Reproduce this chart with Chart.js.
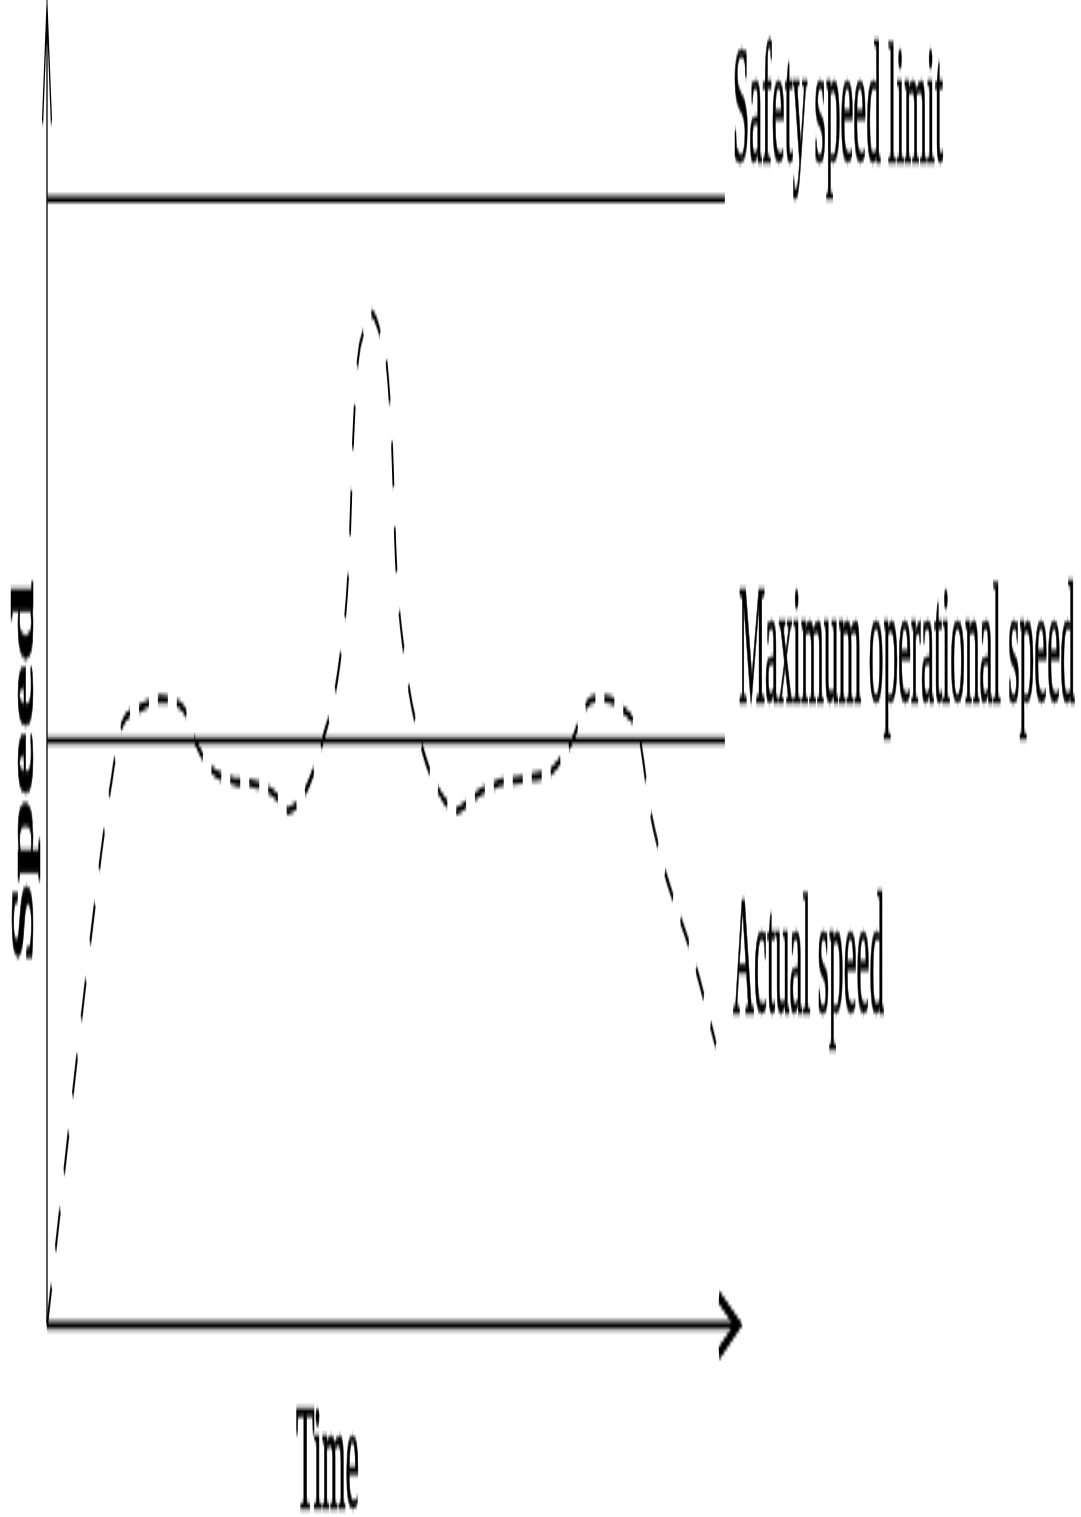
<!DOCTYPE html>
<html>
<head>
<meta charset="utf-8">
<script src="https://cdn.jsdelivr.net/npm/chart.js@4.4.1/dist/chart.umd.min.js"></script>
<style>
  html { overflow: hidden; }
  body { margin: 0; padding: 0; background: #fff; width: 1081px; height: 1517px; }
  /* the whole figure is stretched vertically, so draw it flat and stretch it */
  #wrap { width: 1081px; height: 337px; transform-origin: 0 0; }
</style>
</head>
<body>
<div id="wrap"><canvas id="speedChart" width="1081" height="337"></canvas></div>
<script>
// time (0..100) and speed (safety limit = 100)
const timeValues  = [0, 7.53, 9.12, 10.85, 13.0, 16.35, 19.7, 21.4, 23.6, 27.2, 30.5, 33.0, 34.9, 37.3, 39.9,
                     42.4, 43.7, 44.3, 45.0, 46.0, 47.0, 48.0, 49.1, 49.9, 50.5, 51.8, 54.0,
                     56.9, 59.3, 61.8, 64.8, 69.9, 73.1, 76.0, 77.9, 80.0, 83.2, 85.8, 87.3, 94.1, 96.8];
const speedValues = [0, 40.4, 47.5, 53.3, 54.6, 55.6, 54.8, 51.9, 49.5, 48.3, 48.0, 47.1, 45.7, 47.3, 51.9,
                     59.1, 67.9, 78.6, 85.7, 88.5, 89.8, 88.5, 85.7, 78.6, 67.9, 59.1, 51.9,
                     47.2, 45.7, 46.9, 48.0, 48.6, 49.3, 51.9, 54.9, 55.7, 54.8, 51.9, 45.7, 31.3, 24.9];
const limitTimes = [0, 98.1];
const safetyLimit = 100;
const maxOperational = 51.9;
const labels = ['Safety speed limit', 'Maximum operational speed', 'Actual speed'];
const xTitle = 'Time';
const yTitle = 'Speed';

const H = 337;
const F = 1517 / H;
document.getElementById('wrap').style.transform = 'scale(1,' + F + ')';

function fitText(ctx, text, x, y, size, width, bold) {
    ctx.font = (bold ? 'bold ' : '') + size + 'px "Liberation Serif", "Times New Roman", serif';
    const w = ctx.measureText(text).width;
    ctx.save();
    ctx.translate(x, y);
    ctx.scale(width / w, 1);
    ctx.fillText(text, 0, 0);
    ctx.lineWidth = 0.5;
    ctx.strokeText(text, 0, 0);
    ctx.restore();
}

const decor = {
    id: 'decor',
    afterDraw(chart) {
        const ctx = chart.ctx;
        const xs = chart.scales.x, ys = chart.scales.y;
        const x0 = xs.getPixelForValue(0), y0 = ys.getPixelForValue(0);
        const xEnd = xs.getPixelForValue(xs.max), yTop = ys.getPixelForValue(ys.max);
        ctx.save();
        ctx.strokeStyle = '#000';
        ctx.fillStyle = '#000';
        ctx.lineCap = 'butt';
        // y axis with thin arrow
        ctx.lineWidth = 1.3;
        ctx.beginPath();
        ctx.moveTo(x0, y0);
        ctx.lineTo(x0, yTop);
        ctx.moveTo(x0 - 4.5, yTop + 116 / F);
        ctx.lineTo(x0, yTop);
        ctx.lineTo(x0 + 4.5, yTop + 116 / F);
        ctx.stroke();
        // x axis with arrow
        ctx.lineWidth = 1.6;
        ctx.beginPath();
        ctx.moveTo(x0, y0);
        ctx.lineTo(xEnd - 1, y0);
        ctx.stroke();
        ctx.lineWidth = 3;
        ctx.beginPath();
        ctx.moveTo(xEnd - 19, y0 - 28 / F);
        ctx.lineTo(xEnd, y0);
        ctx.lineTo(xEnd - 19, y0 + 28 / F);
        ctx.stroke();

        // labels
        ctx.textAlign = 'left';
        ctx.textBaseline = 'alphabetic';
        fitText(ctx, labels[0], 733, 162 / F, 37, 210);
        fitText(ctx, labels[1], 739, 703 / F, 37, 336);
        fitText(ctx, labels[2], 733, 1013 / F, 37, 151);
        fitText(ctx, xTitle, 296, 1507 / F, 33.5, 63);

        ctx.save();
        ctx.translate(33, 772.5 / F);
        ctx.rotate(-Math.PI / 2);
        ctx.textAlign = 'center';
        fitText(ctx, yTitle, 0, 0, 31, 385 / F, true);
        ctx.restore();
        ctx.restore();
    }
};

const actual = timeValues.map((t, i) => ({ x: t, y: speedValues[i] }));
const safety = limitTimes.map(t => ({ x: t, y: safetyLimit }));
const maxOp = limitTimes.map(t => ({ x: t, y: maxOperational }));

new Chart(document.getElementById('speedChart'), {
    type: 'line',
    data: {
        datasets: [
            { data: safety, borderColor: '#000', borderWidth: 1.6, pointRadius: 0, clip: false },
            { data: maxOp, borderColor: '#000', borderWidth: 1.6, pointRadius: 0, clip: false },
            { data: actual, borderColor: '#000', borderWidth: 1.8, borderDash: [10, 9],
              pointRadius: 0, cubicInterpolationMode: 'monotone', clip: false }
        ]
    },
    options: {
        responsive: false,
        devicePixelRatio: 1,
        animation: false,
        events: [],
        layout: { padding: { left: 47, right: 343, top: 7 / F, bottom: H - 1325 / F } },
        scales: {
            x: { type: 'linear', min: 0, max: 100, display: false },
            y: { min: 0, max: 117.05, display: false }
        },
        plugins: { legend: { display: false }, tooltip: { enabled: false } }
    },
    plugins: [decor]
});
</script>
</body>
</html>
